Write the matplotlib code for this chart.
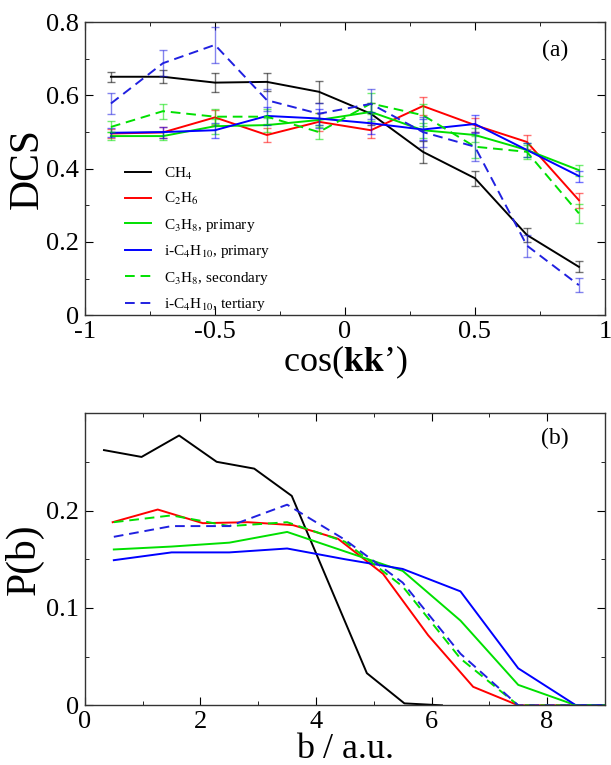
import numpy as np
import matplotlib
matplotlib.use('Agg')
import matplotlib.pyplot as plt
from matplotlib.ticker import MultipleLocator

plt.rcParams['font.family'] = 'Liberation Serif'
plt.rcParams['mathtext.fontset'] = 'stix'

# panel (a): DCS vs cos(kk')
cos_kk = [-0.9, -0.7, -0.5, -0.3, -0.1, 0.1, 0.3, 0.5, 0.7, 0.9]
dcs_ch4 = [0.651, 0.651, 0.635, 0.637, 0.610, 0.550, 0.446, 0.374, 0.219, 0.132]
err_ch4 = [0.014, 0.018, 0.025, 0.025, 0.030, 0.030, 0.030, 0.020, 0.020, 0.015]
dcs_c2h6 = [0.496, 0.499, 0.540, 0.492, 0.528, 0.505, 0.571, 0.519, 0.473, 0.314]
err_c2h6 = [0.012, 0.015, 0.020, 0.020, 0.025, 0.020, 0.025, 0.020, 0.020, 0.020]
dcs_c3h8_p = [0.489, 0.489, 0.516, 0.519, 0.533, 0.555, 0.505, 0.492, 0.451, 0.396]
err_c3h8_p = [0.012, 0.012, 0.020, 0.020, 0.020, 0.025, 0.020, 0.020, 0.020, 0.015]
dcs_c4h10_p = [0.498, 0.500, 0.505, 0.544, 0.537, 0.524, 0.507, 0.522, 0.451, 0.380]
err_c4h10_p = [0.012, 0.015, 0.020, 0.025, 0.025, 0.030, 0.030, 0.025, 0.020, 0.015]
dcs_c3h8_s = [0.514, 0.557, 0.542, 0.542, 0.500, 0.578, 0.546, 0.460, 0.446, 0.278]
err_c3h8_s = [0.015, 0.020, 0.020, 0.020, 0.020, 0.030, 0.030, 0.030, 0.020, 0.025]
dcs_c4h10_t = [0.578, 0.688, 0.738, 0.587, 0.550, 0.577, 0.500, 0.460, 0.190, 0.082]
err_c4h10_t = [0.030, 0.036, 0.050, 0.030, 0.030, 0.040, 0.040, 0.040, 0.030, 0.020]

# panel (b): P(b) vs impact parameter
b_ch4 = [0.33, 0.98, 1.63, 2.28, 2.93, 3.58, 4.23, 4.88, 5.53, 6.18]
p_ch4 = [0.262, 0.255, 0.277, 0.250, 0.243, 0.215, 0.124, 0.033, 0.002, 0.0]
b_c2h6 = [0.48, 1.26, 2.04, 2.82, 3.60, 4.38, 5.16, 5.94, 6.72, 7.50, 8.28, 9.0]
p_c2h6 = [0.188, 0.201, 0.187, 0.188, 0.185, 0.171, 0.135, 0.072, 0.019, 0.0, 0.0, 0.0]
b_grid = [0.5, 1.5, 2.5, 3.5, 4.5, 5.5, 6.5, 7.5, 8.5, 9.0]
p_c3h8_p = [0.160, 0.163, 0.167, 0.178, 0.158, 0.138, 0.087, 0.021, 0.0, 0.0]
p_c4h10_p = [0.149, 0.157, 0.157, 0.161, 0.150, 0.140, 0.117, 0.038, 0.0, 0.0]
p_c3h8_s = [0.188, 0.195, 0.184, 0.188, 0.168, 0.122, 0.048, 0.0, 0.0, 0.0]
p_c4h10_t = [0.173, 0.184, 0.184, 0.206, 0.170, 0.126, 0.053, 0.0, 0.0, 0.0]

labels = [r'CH$_4$', r'C$_2$H$_6$', r'C$_3$H$_8$, primary',
          r'i-C$_4$H$_{10}$, primary', r'C$_3$H$_8$, secondary',
          r'i-C$_4$H$_{10}$, tertiary']
colors = ['black', '#ff0000', '#00e000', '#0000ff', '#00e000', '#2020e0']
styles = ['-', '-', '-', '-', (0, (5, 3)), (0, (5, 3))]

fig = plt.figure(figsize=(6.11, 7.65), dpi=100)
ax1 = fig.add_axes([0.139, 0.588, 0.851, 0.383])
ax2 = fig.add_axes([0.139, 0.078, 0.851, 0.382])

dcs_all = [dcs_ch4, dcs_c2h6, dcs_c3h8_p, dcs_c4h10_p, dcs_c3h8_s, dcs_c4h10_t]
err_all = [err_ch4, err_c2h6, err_c3h8_p, err_c4h10_p, err_c3h8_s, err_c4h10_t]
for y, e, c, ls, lab in zip(dcs_all, err_all, colors, styles, labels):
    ax1.errorbar(cos_kk, y, yerr=e, fmt='none', ecolor=c, alpha=0.55,
                 elinewidth=1.0, capsize=3, capthick=1.0)
    ax1.plot(cos_kk, y, color=c, ls=ls, lw=1.4, label=lab)

ax1.set_xlim(-1, 1)
ax1.set_ylim(0, 0.8)
ax1.set_xticks([-1, -0.5, 0, 0.5, 1])
ax1.set_xticklabels(['-1', '-0.5', '0', '0.5', '1'])
ax1.set_yticks([0, 0.2, 0.4, 0.6, 0.8])
ax1.set_yticklabels(['0', '0.2', '0.4', '0.6', '0.8'])
ax1.xaxis.set_minor_locator(MultipleLocator(0.25))
ax1.yaxis.set_minor_locator(MultipleLocator(0.1))
ax1.set_ylabel('DCS', fontsize=30, labelpad=0)
ax1.set_xlabel(r'cos($\mathbf{kk}$’)', fontsize=26, labelpad=1)
ax1.text(0.904, 0.904, '(a)', transform=ax1.transAxes, fontsize=17,
         ha='center', va='center')
ax1.legend(loc='lower left', bbox_to_anchor=(0.05, -0.04), frameon=False,
           fontsize=11, handlelength=1.7, labelspacing=0.62, handletextpad=0.85)

p_all = [(b_ch4, p_ch4), (b_c2h6, p_c2h6), (b_grid, p_c3h8_p),
         (b_grid, p_c4h10_p), (b_grid, p_c3h8_s), (b_grid, p_c4h10_t)]
for (x, y), c, ls in zip(p_all, colors, styles):
    ax2.plot(x, y, color=c, ls=ls, lw=1.4)

ax2.set_xlim(0, 9)
ax2.set_ylim(0, 0.3)
ax2.set_xticks([0, 2, 4, 6, 8])
ax2.set_yticks([0, 0.1, 0.2])
ax2.set_yticklabels(['0', '0.1', '0.2'])
ax2.xaxis.set_minor_locator(MultipleLocator(1))
ax2.yaxis.set_minor_locator(MultipleLocator(0.05))
ax2.set_ylabel('P(b)', fontsize=30, labelpad=2)
ax2.set_xlabel('b / a.u.', fontsize=26, labelpad=0)
ax2.text(0.904, 0.914, '(b)', transform=ax2.transAxes, fontsize=17,
         ha='center', va='center')

for ax in (ax1, ax2):
    ax.tick_params(which='both', direction='in', top=True, right=True,
                   labelsize=19, pad=4)
    ax.tick_params(which='major', length=6)
    ax.tick_params(which='minor', length=3)
    for s in ax.spines.values():
        s.set_linewidth(1.0)
        s.set_color('#333333')

fig.savefig('out.png', dpi=100)
